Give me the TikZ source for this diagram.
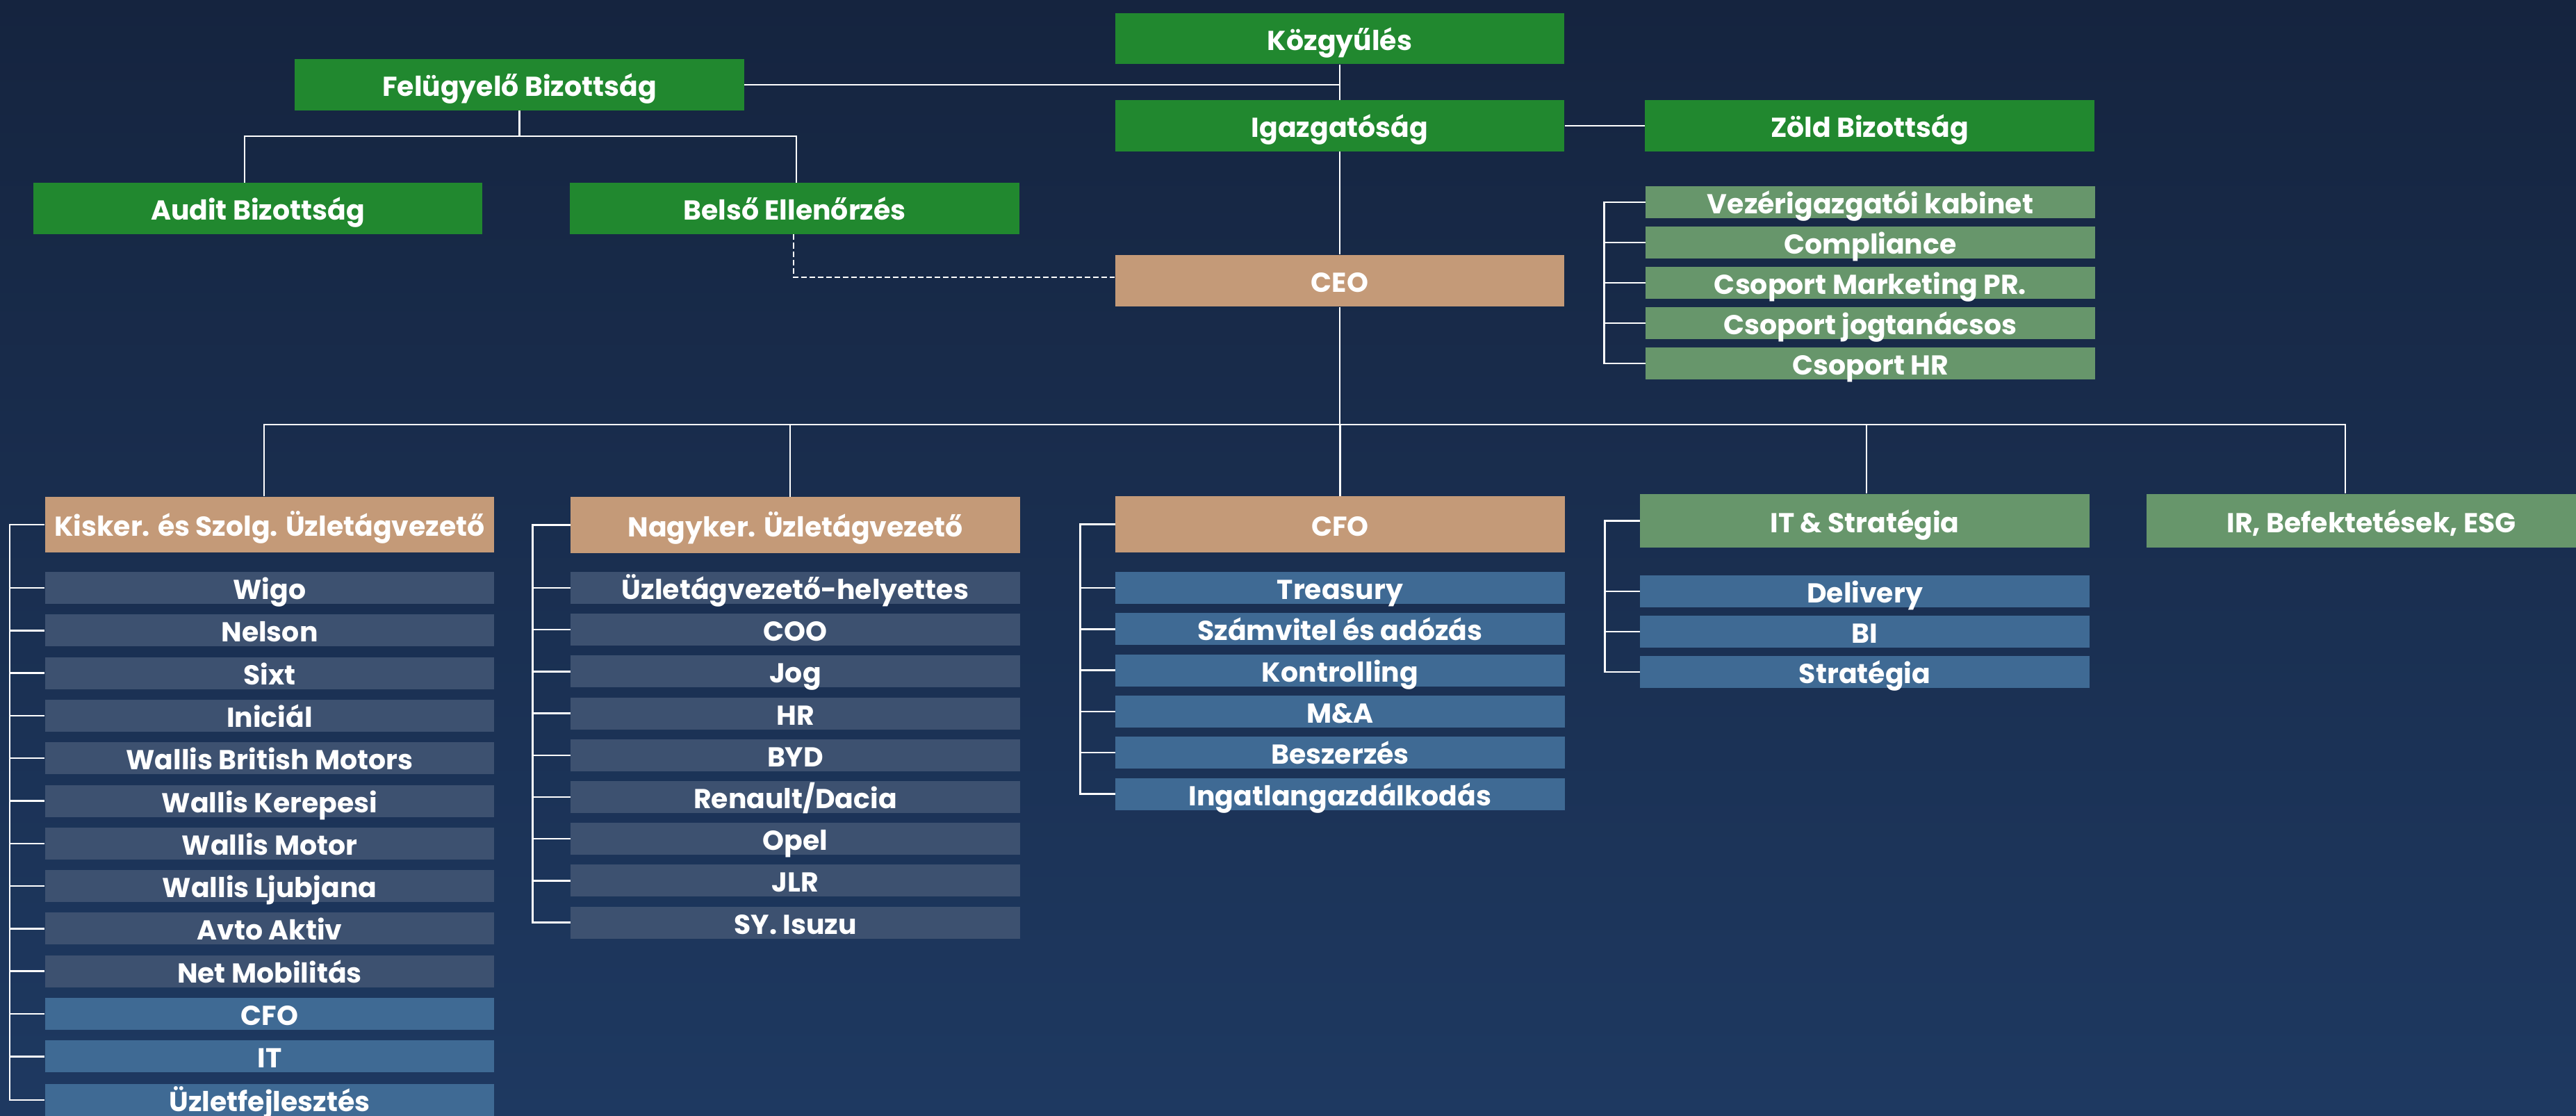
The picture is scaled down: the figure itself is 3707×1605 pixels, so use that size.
\documentclass[tikz,border=0pt]{standalone}
\usepackage{fontspec}
\setmainfont{Poppins}[UprightFont={* SemiBold},BoldFont={* Bold}]
\definecolor{dgreen}{HTML}{21882F}
\definecolor{tanc}{HTML}{C49A78}
\definecolor{mgreen}{HTML}{67966B}
\definecolor{slate}{HTML}{3D5170}
\definecolor{blu}{HTML}{3F6A94}
\definecolor{bgtop}{HTML}{15243F}
\definecolor{bgbot}{HTML}{1E3961}
\tikzset{
  box/.style={rectangle, inner sep=0pt, text=white, font=\bfseries\fontsize{11.2}{13}\selectfont,
    minimum width=6.46cm, text height=0.33cm, text depth=0cm},
  topbox/.style={box, fill=dgreen, minimum height=0.735cm},
  headbox/.style={box, fill=tanc, minimum height=0.80cm},
  ghead/.style={box, fill=mgreen, minimum height=0.77cm},
  gbox/.style={box, fill=mgreen, minimum height=0.46cm},
  sbox/.style={box, fill=slate, minimum height=0.46cm},
  bbox/.style={box, fill=blu, minimum height=0.46cm},
  conn/.style={draw=white, line width=0.025cm},
  dconn/.style={conn, dash pattern=on 0.08cm off 0.04cm}
}
\begin{document}
\begin{tikzpicture}[x=0.01cm,y=-0.01cm]
\useasboundingbox (0,0) rectangle (3707,1605);
\clip (0,0) rectangle (3707,1605);
\shade[top color=bgtop, bottom color=bgbot] (0,0) rectangle (3707,1605);

% top governance
\node[topbox] (kozgy)  at (1928,55.5) {Közgyűlés};
\node[topbox] (igaz)   at (1928,181) {Igazgatóság};
\node[topbox] (zold)   at (2690.5,181) {Zöld Bizottság};
\node[topbox] (felugy) at (747.5,122) {Felügyelő Bizottság};
\node[topbox] (audit)  at (371,300) {Audit Bizottság};
\node[topbox] (belso)  at (1143.5,300) {Belső Ellenőrzés};
\node[headbox, minimum height=0.74cm] (ceo) at (1928,404) {CEO};

% CEO staff
\node[gbox] (g1) at (2691.5,291) {Vezérigazgatói kabinet};
\node[gbox] (g2) at (2691.5,349) {Compliance};
\node[gbox] (g3) at (2691.5,407) {Csoport Marketing PR.};
\node[gbox] (g4) at (2691.5,465) {Csoport jogtanácsos};
\node[gbox] (g5) at (2691.5,523) {Csoport HR};

% heads
\node[headbox] (kisker)  at (388,755) {Kisker. és Szolg. Üzletágvezető};
\node[headbox] (nagyker) at (1144.5,755.5) {Nagyker. Üzletágvezető};
\node[headbox] (cfo)     at (1928.5,754.5) {CFO};
\node[ghead]   (itstrat) at (2683.5,749.5) {IT \& Stratégia};
\node[ghead]   (ir)      at (3412.5,749.5) {IR, Befektetések, ESG};

% Kisker children
\node[sbox] (k1)  at (388,846)    {Wigo};
\node[sbox] (k2)  at (388,907.3)  {Nelson};
\node[sbox] (k3)  at (388,968.6)  {Sixt};
\node[sbox] (k4)  at (388,1029.9) {Iniciál};
\node[sbox] (k5)  at (388,1091.2) {Wallis British Motors};
\node[sbox] (k6)  at (388,1152.5) {Wallis Kerepesi};
\node[sbox] (k7)  at (388,1213.8) {Wallis Motor};
\node[sbox] (k8)  at (388,1275.1) {Wallis Ljubjana};
\node[sbox] (k9)  at (388,1336.4) {Avto Aktiv};
\node[sbox] (k10) at (388,1397.7) {Net Mobilitás};
\node[bbox] (k11) at (388,1459)   {CFO};
\node[bbox] (k12) at (388,1520.3) {IT};
\node[bbox] (k13) at (388,1583)   {Üzletfejlesztés};

% Nagyker children
\node[sbox] (n1) at (1144.5,846)    {Üzletágvezető-helyettes};
\node[sbox] (n2) at (1144.5,906.2)  {COO};
\node[sbox] (n3) at (1144.5,966.4)  {Jog};
\node[sbox] (n4) at (1144.5,1026.6) {HR};
\node[sbox] (n5) at (1144.5,1086.8) {BYD};
\node[sbox] (n6) at (1144.5,1147)   {Renault/Dacia};
\node[sbox] (n7) at (1144.5,1207.2) {Opel};
\node[sbox] (n8) at (1144.5,1267.4) {JLR};
\node[sbox] (n9) at (1144.5,1327.6) {SY. Isuzu};

% CFO children
\node[bbox] (c1) at (1928.5,846)    {Treasury};
\node[bbox] (c2) at (1928.5,905.3)  {Számvitel és adózás};
\node[bbox] (c3) at (1928.5,964.6)  {Kontrolling};
\node[bbox] (c4) at (1928.5,1023.9) {M\&A};
\node[bbox] (c5) at (1928.5,1083.2) {Beszerzés};
\node[bbox] (c6) at (1928.5,1142.5) {Ingatlangazdálkodás};

% IT children
\node[bbox] (i1) at (2683.5,851) {Delivery};
\node[bbox] (i2) at (2683.5,909) {BI};
\node[bbox] (i3) at (2683.5,967) {Stratégia};

% governance connectors
\draw[conn] (kozgy.south) -- (igaz.north);
\draw[conn] (igaz.south) -- (ceo.north);
\draw[conn] (felugy.east) -- (felugy.east -| kozgy.south);
\draw[conn] (igaz.east) -- (zold.west);
\coordinate (fbus) at (747.5,196);
\draw[conn] (felugy.south) -- (fbus);
\draw[conn] ([xshift=-0.19cm]audit.north) |- (fbus) -| ([xshift=0.025cm]belso.north);
\draw[dconn] ([xshift=-0.015cm]belso.south) |- ([yshift=0.05cm]ceo.west);

% CEO staff bracket
\draw[conn] (g1.west) -- ++(-0.59cm,0) |- (g5.west);
\foreach \n in {g2,g3,g4} \draw[conn] (\n.west) -- ++(-0.59cm,0);

% main bus
\coordinate (bus) at (1928,611);
\draw[conn] (ceo.south) -- (bus);
\draw[conn] ([xshift=-0.08cm]kisker.north) |- (bus) -| ([xshift=-0.375cm]ir.north);
\draw[conn] ([xshift=-0.075cm]nagyker.north) |- (bus);
\draw[conn] (cfo.north) |- (bus);
\draw[conn] ([xshift=0.025cm]itstrat.north) |- (bus);

% column brackets
\draw[conn] (kisker.west) -- ++(-0.5cm,0) |- (k13.west);
\foreach \n in {k1,k2,k3,k4,k5,k6,k7,k8,k9,k10,k11,k12} \draw[conn] (\n.west) -- ++(-0.5cm,0);
\draw[conn] (nagyker.west) -- ++(-0.54cm,0) |- (n9.west);
\foreach \n in {n1,n2,n3,n4,n5,n6,n7,n8} \draw[conn] (\n.west) -- ++(-0.54cm,0);
\draw[conn] (cfo.west) -- ++(-0.5cm,0) |- (c6.west);
\foreach \n in {c1,c2,c3,c4,c5} \draw[conn] (\n.west) -- ++(-0.5cm,0);
\draw[conn] (itstrat.west) -- ++(-0.5cm,0) |- (i3.west);
\foreach \n in {i1,i2} \draw[conn] (\n.west) -- ++(-0.5cm,0);
\end{tikzpicture}
\end{document}
